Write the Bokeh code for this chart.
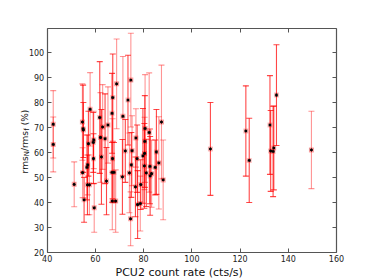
import math
from bokeh.plotting import figure
from bokeh.models import LinearAxis, Label, FixedTicker, Range1d, ColumnDataSource
from bokeh.embed import file_html
from bokeh.resources import INLINE

# ---- data ----
rate = [42.5, 42.5, 51.2, 54.6, 54.9, 55.0, 54.7, 55.3, 56.5, 56.8, 57.1, 56.7, 57.5, 57.8,
        59.1, 59.3, 59.2, 59.5, 61.8, 62.1, 62.5, 63.0, 64.0, 64.6, 65.2, 66.9, 67.2, 67.1,
        66.9, 67.0, 67.7, 68.4, 68.8, 71.4, 71.2, 72.4, 73.5, 74.1, 74.7, 74.6, 74.9, 75.2,
        76.6, 76.8, 77.3, 77.5, 78.6, 78.8, 79.7, 80.4, 80.3, 80.5, 80.6, 81.1, 82.3, 82.6,
        82.7, 83.3, 84.8, 85.3, 86.3, 87.4, 88.1, 107.7, 122.4, 123.8, 132.4, 132.7, 133.7,
        134.0, 135.1, 149.6]
ratio = [71.3, 63.2, 47.2, 72.2, 69.5, 69.0, 51.9, 41.0, 54.0, 55.0, 63.5, 47.0, 47.0, 77.3,
         64.0, 65.0, 57.5, 37.8, 74.0, 66.0, 58.2, 70.2, 65.5, 48.5, 71.0, 75.7, 82.0, 57.5,
         52.0, 40.5, 52.0, 40.5, 87.5, 74.5, 50.2, 60.6, 81.0, 51.8, 89.0, 33.4, 55.0, 60.7,
         46.2, 65.8, 57.5, 39.1, 39.5, 47.1, 58.6, 59.6, 54.6, 64.4, 69.6, 51.8, 68.0, 54.4,
         50.6, 51.5, 54.0, 60.2, 55.8, 72.2, 49.0, 61.4, 68.6, 56.8, 71.0, 60.6, 60.4,
         61.8, 83.0, 61.0]
err = [13.5, 11.0, 9.0, 15.3, 17.5, 11.0, 10.0, 9.0, 13.0, 12.0, 13.0, 12.0, 12.0, 14.7,
       12.0, 11.5, 10.0, 9.8, 22.4, 18.0, 19.0, 17.0, 18.0, 13.5, 15.3, 16.0, 17.5, 16.0,
       12.0, 11.5, 12.0, 12.5, 18.0, 24.0, 15.0, 12.6, 18.0, 16.0, 18.8, 10.8, 13.0, 14.0,
       12.0, 11.7, 13.5, 13.6, 11.0, 10.0, 19.0, 14.5, 17.0, 18.4, 21.6, 13.5, 23.9, 15.0,
       15.8, 13.5, 11.0, 17.0, 18.5, 22.8, 16.0, 18.6, 18.1, 16.9, 19.8, 16.2, 18.1,
       16.8, 20.2, 15.5]
group = ["B", "B", "B", "B", "A", "A", "B", "A", "A", "B", "A", "A", "B", "B",
         "A", "B", "A", "B", "A", "B", "A", "B", "A", "A", "B", "A", "A", "B",
         "A", "B", "A", "B", "B", "B", "A", "A", "A", "B", "B", "B", "A", "B",
         "A", "B", "A", "A", "B", "A", "A", "B", "A", "A", "B", "A", "B", "A",
         "A", "B", "A", "A", "B", "B", "B", "A", "A", "A", "A", "A", "A",
         "A", "A", "B"]

x_ticks = [40, 60, 80, 100, 120, 140, 160]
y_ticks = [20, 30, 40, 50, 60, 70, 80, 90, 100]
X_MIN, X_MAX = 40, 160
Y_MIN, Y_MAX = 20, 109.7

# whole canvas is the frame; the visible box is drawn by fixed-location axes
W, H = 374, 280
left_px, right_px, top_px, bottom_px = 46.7, 336.0, 28.0, 251.7
sx = (right_px - left_px) / (X_MAX - X_MIN)
sy = (bottom_px - top_px) / (Y_MAX - Y_MIN)
x_range = Range1d(X_MIN - left_px / sx, X_MAX + (W - right_px) / sx)
y_range = Range1d(Y_MIN - (H - bottom_px) / sy, Y_MAX + top_px / sy)

p = figure(width=W, height=H, output_backend="svg", toolbar_location=None,
           x_range=x_range, y_range=y_range,
           min_border_left=0, min_border_right=0, min_border_top=0, min_border_bottom=0,
           x_axis_location=None, y_axis_location=None)
p.background_fill_color = "white"
p.border_fill_color = "white"
p.grid.visible = False
p.outline_line_color = None

def make_axis(ticks, loc, bounds, show_labels):
    ax = LinearAxis(ticker=FixedTicker(ticks=ticks), fixed_location=loc, bounds=bounds)
    ax.axis_line_color = "#555555"
    ax.axis_line_width = 1.2
    ax.major_tick_in = 4
    ax.major_tick_out = 0
    ax.major_tick_line_color = "#555555"
    ax.minor_tick_line_color = None
    ax.major_label_standoff = 3
    ax.major_label_text_font = "DejaVu Sans"
    ax.major_label_text_color = "#222222"
    ax.major_label_text_font_size = "8px"
    if not show_labels:
        ax.major_label_overrides = {t: "" for t in ticks}
    return ax

p.add_layout(make_axis(x_ticks, Y_MIN, (X_MIN, X_MAX), True), "below")
p.add_layout(make_axis(x_ticks, Y_MAX, (X_MIN, X_MAX), False), "above")
p.add_layout(make_axis(y_ticks, X_MIN, (Y_MIN, Y_MAX), True), "left")
p.add_layout(make_axis(y_ticks, X_MAX, (Y_MIN, Y_MAX), False), "right")

styles = {"A": dict(alpha=0.72, halo=0.25), "B": dict(alpha=0.42, halo=0.35)}
for g in ["B", "A"]:
    idx = [i for i in range(len(rate)) if group[i] == g]
    src = ColumnDataSource(dict(
        x=[rate[i] for i in idx],
        y=[ratio[i] for i in idx],
        lo=[ratio[i] - err[i] for i in idx],
        hi=[ratio[i] + err[i] for i in idx],
    ))
    a = styles[g]["alpha"]
    p.segment(x0="x", y0="lo", x1="x", y1="hi", source=src, line_color="red", line_alpha=a, line_width=1.1)
    p.scatter(x="x", y="lo", source=src, marker="dash", size=6, line_color="red", line_alpha=a, line_width=1.1)
    p.scatter(x="x", y="hi", source=src, marker="dash", size=6, line_color="red", line_alpha=a, line_width=1.1)
    p.scatter(x="x", y="y", source=src, marker="square", size=5, fill_color="red",
              fill_alpha=styles[g]["halo"], line_color=None)
for g in ["B", "A"]:
    idx = [i for i in range(len(rate)) if group[i] == g]
    p.scatter(x=[rate[i] for i in idx], y=[ratio[i] for i in idx], marker="asterisk",
              size=3.2, line_color="black", line_width=1.0)
    p.scatter(x=[rate[i] for i in idx], y=[ratio[i] for i in idx], marker="square",
              size=1.8, fill_color="black", line_color=None)

# x axis label
p.add_layout(Label(x=94.75, y=11.85, text="PCU2 count rate (cts/s)", text_align="center",
                   text_baseline="alphabetic", text_font="DejaVu Sans", text_font_size="11px",
                   text_color="#111111"))

# y axis label with subscripts (rotated pieces)
pieces = [("rms", 51.6, 30.8, "9px"), ("N", 58.48, 31.5, "7px"), ("/rms", 60.58, 30.8, "9px"),
          ("f", 68.68, 31.5, "7px"), ("(%)", 70.9, 30.8, "9px")]
for txt, yy, xx, fs in pieces:
    p.add_layout(Label(x=xx, y=yy, text=txt, angle=math.pi / 2, text_align="left",
                       text_baseline="alphabetic", text_font="DejaVu Sans", text_font_size=fs,
                       text_color="#111111"))

open("out.html", "w").write(file_html(p, INLINE))
